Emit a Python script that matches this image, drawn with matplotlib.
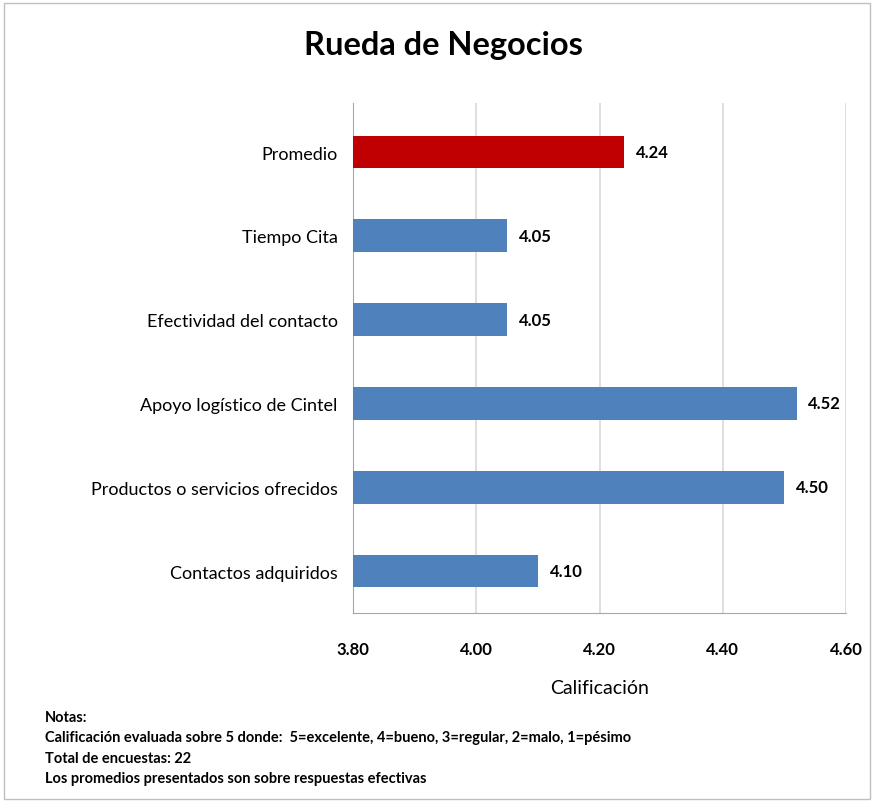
import matplotlib
matplotlib.use("Agg")
import matplotlib.pyplot as plt
from matplotlib.patches import Rectangle

# --------------------
# DATA
# --------------------
categories = ["Contactos adquiridos", "Productos o servicios ofrecidos",
              "Apoyo logístico de Cintel", "Efectividad del contacto",
              "Tiempo Cita", "Promedio"]
values = [4.10, 4.50, 4.52, 4.05, 4.05, 4.24]
bar_colors = ["#4F81BD"] * 5 + ["#C00000"]
x_ticks = [3.80, 4.00, 4.20, 4.40, 4.60]
notes = ["Notas:",
         "Calificación evaluada sobre 5 donde:  5=excelente, 4=bueno, 3=regular, 2=malo, 1=pésimo",
         "Total de encuestas: 22",
         "Los promedios presentados son sobre respuestas efectivas"]

plt.rcParams['font.family'] = ['Lato', 'DejaVu Sans']

fig = plt.figure(figsize=(8.74, 8.04), dpi=100)
W, H = 874, 804
ax = fig.add_axes([353 / W, 1 - 614 / H, (846 - 353) / W, (614 - 104) / H])

ypos = list(range(len(categories)))
ax.barh(ypos, [v - 3.80 for v in values], left=3.80, height=0.39,
        color=bar_colors, zorder=3)
for y, v in zip(ypos, values):
    ax.text(v + 0.019, y, f"{v:.2f}", va="center", ha="left",
            fontsize=12, fontweight="bold")

ax.set_xlim(3.80, 4.60)
ax.set_ylim(-0.5, 5.585)
ax.set_xticks(x_ticks)
ax.set_xticklabels([f"{t:.2f}" for t in x_ticks], fontsize=12, fontweight="bold")
ax.set_yticks(ypos)
ax.set_yticklabels(categories, fontsize=13)
ax.tick_params(axis="x", length=0, pad=20)
ax.tick_params(axis="y", length=0, pad=11)
ax.grid(axis="x", color="#D9D9D9", linewidth=1.2, zorder=0)
for s in ["top", "right"]:
    ax.spines[s].set_visible(False)
for s in ["left", "bottom"]:
    ax.spines[s].set_color("#A6A6A6")
ax.set_xlabel("Calificación", fontsize=14, labelpad=16)

fig.text(443 / W, 1 - 46 / H, "Rueda de Negocios", ha="center", va="center",
         fontsize=23.5, fontweight="bold")

for i, line in enumerate(notes):
    fig.text(45 / W, 1 - (718 + i * 20.5) / H, line, ha="left", va="center",
             fontsize=10.5, fontweight="bold")

fig.patches.append(Rectangle((4 / W, 4 / H), 1 - 8 / W, 1 - 8 / H,
                             transform=fig.transFigure, fill=False,
                             edgecolor="#BFBFBF", linewidth=1))

fig.savefig("out.png", dpi=100)
